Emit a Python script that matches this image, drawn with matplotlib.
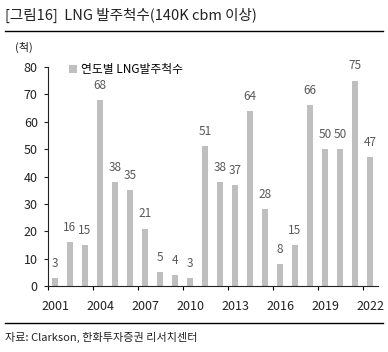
import matplotlib
matplotlib.use('Agg')
import matplotlib.pyplot as plt
import numpy as np

plt.rcParams['font.family'] = ['Noto Sans CJK KR', 'DejaVu Sans']

years = list(range(2001, 2023))
orders = [3, 16, 15, 68, 38, 35, 21, 5, 4, 3, 51, 38, 37, 64, 28, 8, 15, 66, 50, 50, 75, 47]
yticks = [0, 10, 20, 30, 40, 50, 60, 70, 80]

fig = plt.figure(figsize=(3.88, 3.52), dpi=100)
W, H = 388, 352
ax = fig.add_axes([47.5 / W, 1 - 286 / H, 330 / W, 219 / H])

x = np.arange(len(years))
ax.bar(x, orders, width=0.42, color='#bfbfbf', label='연도별 LNG발주척수')
for xi, v in zip(x, orders):
    ax.text(xi, v + 3, str(v), ha='center', va='bottom', fontsize=8.5, color='#595959')

ax.set_xlim(-0.5, len(years) - 0.5)
ax.set_ylim(0, 80)
ax.set_yticks(yticks)
ax.tick_params(axis='y', labelsize=9, length=3, pad=4, colors='#222222')
ax.set_xticks(np.arange(-0.5, len(years), 3))
ax.set_xticklabels([])
ax.tick_params(axis='x', length=3)
for i in range(0, len(years), 3):
    ax.text(i, -5, str(years[i]), ha='center', va='top', fontsize=9, color='#222222',
            transform=ax.transData)
for s in ['top', 'right']:
    ax.spines[s].set_visible(False)
ax.spines['left'].set_color('#222222')
ax.spines['bottom'].set_color('#222222')

ax.legend(loc='upper left', bbox_to_anchor=(0.05, 1.04), frameon=False, fontsize=8.5,
          handlelength=0.7, handleheight=0.7, handletextpad=0.3, borderaxespad=0)

fig.text(5 / W, 1 - 15 / H, '[그림16]  LNG 발주척수(140K cbm 이상)', fontsize=10.5,
         va='center', ha='left', color='#222222')
fig.add_artist(plt.Line2D([5 / W, 383 / W], [1 - 30.5 / H] * 2, color='black', lw=1))
fig.text(15 / W, 1 - 47 / H, '(척)', fontsize=8, va='center', ha='left', color='#222222')
fig.add_artist(plt.Line2D([5 / W, 383 / W], [1 - 323 / H] * 2, color='black', lw=1))
fig.text(5 / W, 1 - 337 / H, '자료: Clarkson, 한화투자증권 리서치센터', fontsize=8,
         va='center', ha='left', color='#222222')

fig.savefig('out.png', dpi=100)
